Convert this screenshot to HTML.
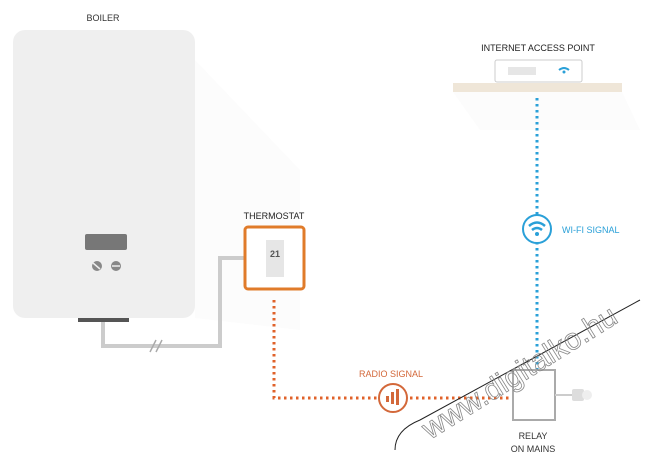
<!DOCTYPE html>
<html><head><style>body{margin:0;background:#fff}svg{display:block}</style></head><body>
<svg width="650" height="469" viewBox="0 0 650 469" xmlns="http://www.w3.org/2000/svg" font-family="Liberation Sans, sans-serif">
<rect width="650" height="469" fill="#fff"/>
<polygon points="195,60 300,170 300,330 195,318" fill="#fcfcfc"/>
<polygon points="453,92 622,92 640,130 480,130" fill="#fcfcfc"/>
<text x="103" y="21" font-size="9" text-anchor="middle" fill="#333">BOILER</text>
<rect x="13" y="30" width="182" height="288" rx="12" fill="#efefef"/>
<rect x="85" y="234" width="42" height="16" rx="2" fill="#777"/>
<circle cx="97" cy="266" r="5" fill="#888"/><circle cx="116" cy="266" r="5" fill="#888"/>
<line x1="93" y1="263" x2="100" y2="269" stroke="#eee" stroke-width="1.5"/><line x1="112" y1="266" x2="120" y2="266" stroke="#eee" stroke-width="1.5"/>
<rect x="78" y="318" width="51" height="4" fill="#555"/>
<polyline points="103,322 103,346 220,346 220,258 244,258" fill="none" stroke="#ccc" stroke-width="4"/>
<line x1="150" y1="352" x2="156" y2="340" stroke="#aaa" stroke-width="1.5"/><line x1="156" y1="352" x2="162" y2="340" stroke="#aaa" stroke-width="1.5"/>
<text x="274" y="219" font-size="9" text-anchor="middle" fill="#222">THERMOSTAT</text>
<rect x="245" y="227" width="59" height="62" rx="3" fill="#fff" stroke="#e07b2a" stroke-width="3"/>
<rect x="266" y="240" width="18" height="37" fill="#e6e6e6"/>
<text x="275" y="257" font-size="9" font-weight="bold" text-anchor="middle" fill="#555">21</text>
<polyline points="274,300 274,398 512,398" fill="none" stroke="#e0622a" stroke-width="3" stroke-dasharray="2.5 3.5"/>
<circle cx="393" cy="398" r="14" fill="#fff" stroke="#d3683a" stroke-width="2"/>
<rect x="386" y="396" width="3" height="6" fill="#d3683a"/><rect x="391" y="392" width="3" height="12" fill="#d3683a"/><rect x="396" y="389" width="3" height="16" fill="#d3683a"/>
<text x="391" y="377" font-size="9" text-anchor="middle" fill="#d3683a">RADIO SIGNAL</text>
<line x1="537" y1="98" x2="537" y2="370" stroke="#2aa0d8" stroke-width="3" stroke-dasharray="2.5 3.5"/>
<circle cx="537" cy="229" r="14" fill="#fff" stroke="#2aa0d8" stroke-width="2"/>
<path d="M529,226 Q537,219 545,226" fill="none" stroke="#2aa0d8" stroke-width="2.5"/>
<path d="M532,230 Q537,226 542,230" fill="none" stroke="#2aa0d8" stroke-width="2.5"/>
<circle cx="537" cy="234" r="2" fill="#2aa0d8"/>
<text x="562" y="233" font-size="9" fill="#2aa0d8">WI-FI SIGNAL</text>
<text x="538" y="51" font-size="9" text-anchor="middle" fill="#222">INTERNET ACCESS POINT</text>
<rect x="495" y="60" width="87" height="22" rx="2" fill="#fff" stroke="#ccc"/>
<rect x="508" y="67" width="28" height="8" fill="#e6e6e6"/>
<path d="M559,70 Q564,66 569,70" fill="none" stroke="#2aa0d8" stroke-width="2"/><circle cx="564" cy="72" r="1.5" fill="#2aa0d8"/>
<rect x="453" y="83" width="169" height="9" fill="#efe6d8"/>
<rect x="513" y="370" width="42" height="50" fill="#fff" stroke="#aaa" stroke-width="2"/>
<line x1="555" y1="395" x2="572" y2="395" stroke="#ccc" stroke-width="2"/>
<rect x="572" y="389" width="12" height="12" rx="2" fill="#ddd"/><circle cx="587" cy="395" r="5" fill="#eee"/>
<text x="533" y="439" font-size="9" text-anchor="middle" fill="#333">RELAY</text>
<text x="533" y="452" font-size="9" text-anchor="middle" fill="#333">ON MAINS</text>
<path d="M395,450 Q395,430 420,420 L640,300" fill="none" stroke="#222" stroke-width="1"/>
<text x="430" y="440" font-size="30" fill="none" stroke="#888" stroke-width="0.8" transform="rotate(-32 430 440)">www.digitalko.hu</text>
</svg>
</body></html>
